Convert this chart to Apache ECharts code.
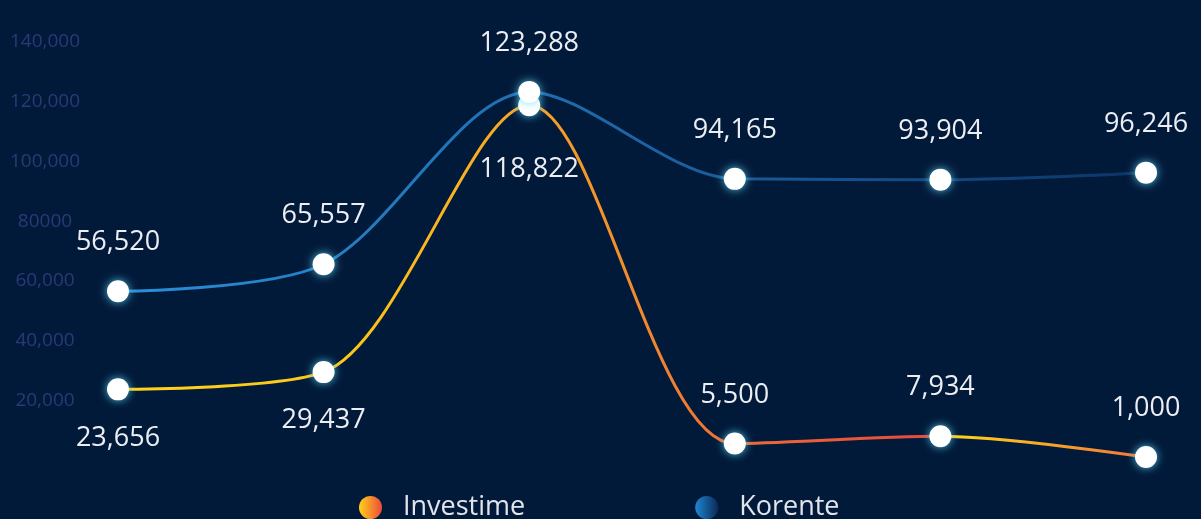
<!DOCTYPE html>
<html>
<head>
<meta charset="utf-8">
<script src="https://cdn.jsdelivr.net/npm/echarts@6/dist/echarts.min.js"></script>
<style>
html,body{margin:0;padding:0;background:#021a3a;}
#chart{width:1201px;height:519px;}
</style>
</head>
<body>
<div id="chart"></div>
<script>
// ---- data ----
const categories = ['1', '2', '3', '4', '5', '6'];
const investime = [23656, 29437, 118822, 5500, 7934, 1000];
const korente = [56520, 65557, 123288, 94165, 93904, 96246];
const yTickLabels = ['', '20,000', '40,000', '60,000', '80000', '100,000', '120,000', '140,000'];
const seriesNames = ['Investime', 'Korente'];

// ---- styling helpers ----
const investimeLabelSide = ['bottom', 'bottom', 'bottom', 'top', 'top', 'top'];
const fmt = v => Number(v).toLocaleString('en-US');
const LG = (stops) => new echarts.graphic.LinearGradient(0, 0, 1, 0,
  stops.map(s => ({offset: s[0], color: s[1]})));

const investimeLine = LG([[0, '#ffd41c'], [0.22, '#fcc51a'], [0.4, '#f6a524'], [0.5, '#f28b2c'],
  [0.6, '#ee6c36'], [0.79, '#e8483c'], [0.8, '#ffd81a'], [1, '#f0743a']]);
const korenteLine = LG([[0, '#2a90d8'], [0.35, '#2073b6'], [0.6, '#1a5a98'], [1, '#0c3466']]);

const pointStyle = {
  color: '#ffffff',
  borderWidth: 0,
  shadowColor: 'rgba(90,220,255,0.85)',
  shadowBlur: 9
};
const labelBase = {
  show: true,
  color: '#eceef3',
  fontSize: 27,
  fontFamily: 'Open Sans',
  formatter: p => fmt(p.value)
};

const chart = echarts.init(document.getElementById('chart'), null, {renderer: 'canvas'});
chart.setOption({
  backgroundColor: '#021a3a',
  animation: false,
  grid: {left: 118, right: 55, top: 42, bottom: 59},
  xAxis: {
    type: 'category',
    data: categories,
    boundaryGap: false,
    show: false
  },
  yAxis: {
    type: 'value',
    min: 0,
    max: 140000,
    interval: 20000,
    axisLine: {show: false},
    axisTick: {show: false},
    splitLine: {show: false},
    axisLabel: {
      color: '#2b3977',
      fontSize: 19,
      fontFamily: 'Open Sans',
      align: 'center',
      margin: 73,
      formatter: v => yTickLabels[Math.round(v / 20000)]
    }
  },
  legend: {
    left: 354,
    top: 489,
    itemWidth: 23,
    itemHeight: 23,
    itemGap: 170,
    icon: 'circle',
    textStyle: {color: '#e2e4ea', fontSize: 27, fontFamily: 'Open Sans', padding: [0, 0, 0, 16]},
    data: [
      {name: seriesNames[0], itemStyle: {color: LG([[0, '#ffd21a'], [1, '#ec4a3c']]), borderWidth: 0, shadowBlur: 0}},
      {name: seriesNames[1], itemStyle: {color: LG([[0, '#1f86d0'], [1, '#0a2a58']]), borderWidth: 0, shadowBlur: 0}}
    ]
  },
  series: [
    {
      name: seriesNames[0],
      type: 'line',
      smooth: 0.3,
      data: investime.map((v, i) => ({
        value: v,
        label: {position: investimeLabelSide[i], distance: i === 2 ? 40 : 24}
      })),
      symbol: 'circle',
      symbolSize: 22,
      lineStyle: {width: 3, color: investimeLine},
      itemStyle: pointStyle,
      label: labelBase,
      z: 3
    },
    {
      name: seriesNames[1],
      type: 'line',
      smooth: 0.3,
      data: korente,
      symbol: 'circle',
      symbolSize: 22,
      lineStyle: {width: 3, color: korenteLine},
      itemStyle: pointStyle,
      label: Object.assign({}, labelBase, {position: 'top', distance: 24}),
      z: 4
    }
  ]
});
</script>
</body>
</html>
